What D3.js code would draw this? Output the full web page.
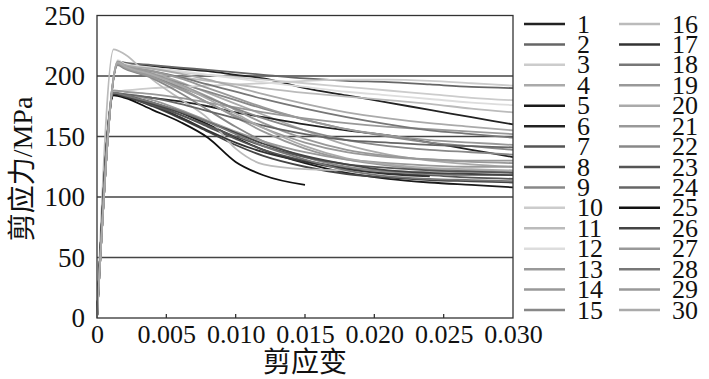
<!DOCTYPE html>
<html><head><meta charset="utf-8">
<script src="https://cdn.jsdelivr.net/npm/d3@7"></script>
<style>
html,body{margin:0;padding:0;background:#fff;}
svg{display:block;}
</style></head>
<body>
<svg id="chart" width="709" height="379"></svg>
<script>
// ---- data ----
const legendLabels = d3.range(1, 31).map(String);
const xTickValues = [0, 0.005, 0.010, 0.015, 0.020, 0.025, 0.030];
const xTickLabels = ["0", "0.005", "0.010", "0.015", "0.020", "0.025", "0.030"];
const yTickValues = [0, 50, 100, 150, 200, 250];
const strainGrid = [0.002, 0.004, 0.006, 0.008, 0.010, 0.012, 0.015, 0.018, 0.021, 0.024, 0.027, 0.030];
const peakStrain = [0.0015,0.0015,0.0015,0.0015,0.0012,0.0012,0.0012,0.0012,0.0015,0.0012,
                    0.0012,0.0015,0.0015,0.0012,0.0015,0.0015,0.0012,0.0015,0.0015,0.0015,
                    0.0012,0.0015,0.0012,0.0012,0.0012,0.0012,0.0015,0.0012,0.0015,0.0015];
const peakStress = [210,212,211,212,186,185,186,185,210,187,
                    222,213,211,188,210,210,185,210,212,211,
                    186,209,185,186,184,185,210,186,210,211];
const stressSeries = [
  [209.5,208,206,204,201,198,190,184,178,172,166,160],
  [211,209,207,205,203,201,198,196,195,193,191,190],
  [209,206,203,201,199,197,194,191,188,185,182,180],
  [209,203,195,186,177,168,155,143,135,130,127,125],
  [184,178,170,160,149,139,128,120,115,112,110,108],
  [184,182,179,175,170,166,160,155,151,145,139,133],
  [184,177,168,158,148,139,130,124,120,118,116,115],
  [183,175,165,154,143,134,125,119,116,114,113,112],
  [207,201,194,187,180,173,164,156,150,145,142,139],
  [188,190,191,192,193,194,196,197,197,196,194,192],
  [218,197,181,165,140,127,123,122,121,121,120,120],
  [210,207,204,201,198,195,191,187,184,181,178,176],
  [208,200,190,178,166,154,140,131,126,123,122,121],
  [187,185,182,178,174,170,165,161,158,156,154,152],
  [207,198,186,172,158,146,133,125,121,119,118,118],
  [207,203,199,196,193,190,186,183,180,177,173,170],
  [183,176,166,155,145,137,129,123,119,117,null,null],
  [208,204,199,193,187,181,173,166,160,155,152,149],
  [209,202,193,183,172,161,148,139,134,131,129,128],
  [209,206,202,197,191,185,177,170,165,161,158,155],
  [185,180,172,163,154,146,137,131,128,126,125,125],
  [206,199,191,182,173,165,155,147,142,139,137,135],
  [183,176,168,159,150,142,133,127,124,122,121,120],
  [185,182,177,171,165,159,152,147,145,143,142,141],
  [182,172,162,149,129,118,110,null,null,null,null,null],
  [183,177,170,162,153,144,134,127,122,120,119,118],
  [207,199,189,178,167,157,145,137,133,131,130,130],
  [184,178,171,162,152,142,131,122,117,115,114,113],
  [208,204,198,190,182,174,164,156,151,147,145,143],
  [208,201,192,181,169,157,142,132,127,124,123,122]
];
const seriesColors = ["#222","#666","#ccc","#aaa","#1a1a1a","#222","#555","#444","#888","#ccc",
                      "#bbb","#ddd","#999","#999","#888","#bbb","#333","#777","#999","#aaa",
                      "#999","#888","#555","#666","#111","#444","#999","#777","#999","#aaa"];

const FONT = "'Liberation Serif','Times New Roman',Times,'Noto Sans CJK SC',serif";

// ---- layout ----
const svg = d3.select("#chart");
const x = d3.scaleLinear().domain([0, 0.03]).range([97, 513]);
const y = d3.scaleLinear().domain([0, 250]).range([318, 15.5]);

// gridlines
svg.append("g").selectAll("line").data(yTickValues.filter(v => v > 0 && v < 250)).join("line")
  .attr("x1", x(0)).attr("x2", x(0.03))
  .attr("y1", d => y(d)).attr("y2", d => y(d))
  .attr("stroke", "#444").attr("stroke-width", 1.3);

// series
const line = d3.line().defined(d => d[1] != null).x(d => x(d[0])).y(d => y(d[1])).curve(d3.curveMonotoneX);
const seriesData = stressSeries.map((vals, i) => {
  const pts = [[0, 0], [peakStrain[i], peakStress[i]]];
  strainGrid.forEach((s, j) => { if (vals[j] != null) pts.push([s, vals[j]]); });
  return pts;
});
svg.append("g").selectAll("path").data(seriesData).join("path")
  .attr("d", line).attr("fill", "none")
  .attr("stroke", (d, i) => seriesColors[i]).attr("stroke-width", 1.8)
  .attr("stroke-linejoin", "round");

// frame
svg.append("rect").attr("x", x(0)).attr("y", y(250)).attr("width", x(0.03) - x(0)).attr("height", y(0) - y(250))
  .attr("fill", "none").attr("stroke", "#333").attr("stroke-width", 1.3);

// x axis (inward ticks)
const xAxis = d3.axisBottom(x).tickValues(xTickValues).tickSize(0).tickPadding(7)
  .tickFormat((d, i) => xTickLabels[i]);
const gx = svg.append("g").attr("transform", `translate(0,${y(0)})`).call(xAxis);
gx.select(".domain").remove();
gx.selectAll("text").style("font-size", "26px").style("font-family", FONT).attr("fill", "#111");
svg.append("g").selectAll("line").data(xTickValues.slice(1, -1)).join("line")
  .attr("x1", d => x(d)).attr("x2", d => x(d)).attr("y1", y(0)).attr("y2", y(0) - 4)
  .attr("stroke", "#333").attr("stroke-width", 1.3);

// y axis
const yAxis = d3.axisLeft(y).tickValues(yTickValues).tickSize(0).tickPadding(12);
const gy = svg.append("g").attr("transform", `translate(${x(0)},0)`).call(yAxis);
gy.select(".domain").remove();
gy.selectAll("text").style("font-size", "27px").style("font-family", FONT).attr("fill", "#111");

// axis titles
svg.append("text").attr("x", 305).attr("y", 372).attr("text-anchor", "middle")
  .style("font-size", "28px").style("font-family", FONT).attr("fill", "#111").text("剪应变");
svg.append("text").attr("transform", "translate(32,169) rotate(-90)").attr("text-anchor", "middle")
  .style("font-size", "28px").style("font-family", FONT).attr("fill", "#111").text("剪应力/MPa");

// legend
const lg = svg.append("g");
const rowH = 20.43;
legendLabels.forEach((lab, i) => {
  const col = Math.floor(i / 15), row = i % 15;
  const lx = col === 0 ? 524 : 619;
  const ly = 24 + row * rowH;
  lg.append("line").attr("x1", lx).attr("x2", lx + 41).attr("y1", ly).attr("y2", ly)
    .attr("stroke", seriesColors[i]).attr("stroke-width", 2.5);
  lg.append("text").attr("x", lx + 53).attr("y", ly + 8.5)
    .style("font-size", "26px").style("font-family", FONT).attr("fill", "#111").text(lab);
});
</script>
</body></html>
